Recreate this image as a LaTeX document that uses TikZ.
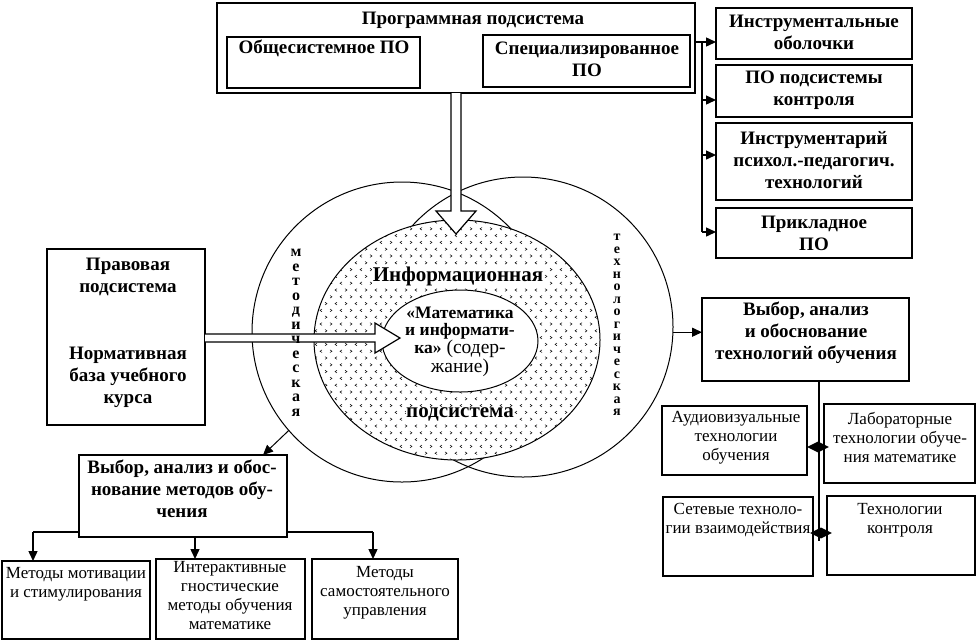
\documentclass[tikz,border=0pt]{standalone}
\usepackage{fontspec}
\setmainfont{Liberation Serif}
\usetikzlibrary{arrows.meta,shapes.geometric}
\tikzset{
  box/.style={draw, line width=1.8pt, rectangle, inner sep=0pt, outer sep=0pt},
  bt/.style={font=\fontsize{19}{22}\selectfont\bfseries, align=center, inner sep=0pt},
  rt/.style={font=\fontsize{17}{19}\selectfont, align=center, inner sep=0pt},
  conn/.style={line width=1.4pt},
  arr/.style={line width=1.4pt, -{Triangle[length=10pt,width=9pt]}},
  thinarr/.style={line width=1pt, -{Triangle[length=10pt,width=9pt]}},
  hollow/.style={line width=1.2pt, fill=white, line join=miter},
  vword/.style={align=center, inner sep=0pt},
  bigc/.style={circle, draw, line width=1pt, minimum size=300pt, inner sep=0pt, outer sep=0pt},
  chev/.style={line width=0.5pt},
}
\newcommand\boxat[5]{\node[box, minimum width={(#4-#2)*1pt}, minimum height={(#5-#3)*1pt}] (#1) at ({(#2+#4)/2},{(#3+#5)/2}) {};}
\begin{document}
\begin{tikzpicture}[x=1pt,y=-1pt]
\useasboundingbox (0,0) rectangle (976,641);
% big circles
\node[bigc] (cL) at (402,332) {};
\node[bigc] (cR) at (523,327) {};
% shaded ellipse
\fill[white] (457,340) ellipse [x radius=143pt, y radius=120pt];
\begin{scope}
\clip (457,340) ellipse [x radius=143pt, y radius=120pt];
\foreach \j in {0,...,35}{
  \foreach \i in {0,...,29}{
    \pgfmathsetmacro\xx{316+\i*10+mod(\j,2)*5}
    \pgfmathsetmacro\yy{222+\j*6.8}
    \ifodd\i
      \draw[chev] (\xx-1,\yy-1.3) -- (\xx+1,\yy) -- (\xx-1,\yy+1.3);
    \else
      \draw[chev] (\xx+1,\yy-1.3) -- (\xx-1,\yy) -- (\xx+1,\yy+1.3);
    \fi
  }
}
\end{scope}
\node[ellipse, draw, line width=1pt, minimum width=286pt, minimum height=240pt, inner sep=0pt] (eInfo) at (457,340) {};
\node[ellipse, draw, fill=white, line width=1pt, minimum width=156pt, minimum height=102pt, inner sep=0pt] (eCore) at (460,341) {};
\node[inner sep=0pt, align=center, font=\fontsize{17.5}{17}\selectfont\bfseries] (tCore) at (460,342) {«Математика\\ и информати-\\ ка»{\mdseries\fontsize{19.5}{17}\selectfont{} (содер-}\\ {\mdseries\fontsize{19.5}{17}\selectfont жание)}};
\node[font=\fontsize{21}{22}\selectfont\bfseries, fill=white, inner sep=0.5pt] (tInfo) at (458,276) {Информационная};
\node[font=\fontsize{21}{22}\selectfont\bfseries, fill=white, inner sep=0.5pt] (tPod) at (460,414) {подсистема};
% top program subsystem
\boxat{top}{217}{3}{695}{93}
\boxat{ob}{227}{37}{420}{88}
\boxat{spec}{483}{35}{690}{87}
\node[bt] (tTop) at (473,20) {Программная подсистема};
\node[bt] (tOb) at (324,48) {Общесистемное ПО};
\node[bt] (tSpec) at (587,59) {Специализированное\\ПО};
% right column
\boxat{r1}{716}{8}{912}{59}
\boxat{r2}{716}{65}{912}{117}
\boxat{r3}{716}{123}{912}{200}
\boxat{r4}{716}{208}{912}{258}
\node[bt] (t1) at (814,32) {Инструментальные\\оболочки};
\node[bt] (t2) at (814,90) {ПО подсистемы\\контроля};
\node[bt] (t3) at (814,160) {Инструментарий\\психол.-педагогич.\\технологий};
\node[bt] (t4) at (814,233) {Прикладное\\ПО};
\coordinate (rb0) at (702,42);
\coordinate (rb1) at (702,100);
\coordinate (rb2) at (702,155);
\coordinate (rb3) at (702,232);
\draw[arr] (top.east |- rb0) -- (r1.west |- rb0);
\draw[conn] (rb0) -- (rb3);
\draw[arr] (rb1) -- (r2.west |- rb1);
\draw[arr] (rb2) -- (r3.west |- rb2);
\draw[arr] (rb3) -- (r4.west |- rb3);
% down hollow arrow
\draw[hollow] ([xshift=-5pt]top.south) -- ++(0,118) -- ++(-15,0) -- ++(20,23) -- ++(20,-23) -- ++(-15,0) -- ([xshift=5pt]top.south);
% left box
\boxat{lb}{47}{249}{205}{425}
\node[bt] (tPr) at (128,277) {Правовая\\подсистема};
\node[bt] (tNo) at (128,377) {Нормативная\\база учебного\\курса};
\draw[hollow] ([yshift=3pt]lb.east) -- ++(170,0) -- ++(0,-11) -- ++(25,15) -- ++(-25,15) -- ++(0,-11) -- ([yshift=-5pt]lb.east);
% vertical words
\node[vword, font={\fontsize{16}{14.5}\selectfont\bfseries\lineskiplimit=-30pt}] (vMet) at (296,333) {м\\е\\т\\о\\д\\и\\ч\\е\\с\\к\\а\\я};
\node[vword, font={\fontsize{14}{12.5}\selectfont\bfseries\lineskiplimit=-30pt}] (vTech) at (617,325) {т\\е\\х\\н\\о\\л\\о\\г\\и\\ч\\е\\с\\к\\а\\я};
% technology selection
\boxat{vt}{702}{298}{909}{381}
\node[bt] (tVt) at (806,333) {Выбор, анализ\\и обоснование\\технологий обучения};
\draw[arr] (cR.-2) -- (vt.west |- cR.-2);
\boxat{au}{662}{406}{807}{475}
\boxat{lab}{824}{404}{975}{483}
\boxat{net}{663}{497}{813}{576}
\boxat{ctl}{827}{496}{975}{575}
\node[rt] (tAu) at (736,438) {Аудиовизуальные\\технологии\\обучения};
\node[rt] (tLab) at (900,437) {Лабораторные\\технологии обуче-\\ния математике};
\node[rt] (tNet) at (738,520) {Сетевые техноло-\\гии взаимодействия};
\node[rt] (tCtl) at (900,520) {Технологии\\контроля};
\coordinate (tb) at (819,541);
\draw[conn] (vt.south -| tb) -- (tb);
\node[diamond, fill, minimum width=22pt, minimum height=11pt, inner sep=0pt] (dm1) at (818,447) {};
\node[diamond, fill, minimum width=22pt, minimum height=11pt, inner sep=0pt] (dm2) at (821,533) {};
% method selection
\boxat{vm}{79}{455}{287}{537}
\node[bt] (tVm) at (182,489) {Выбор, анализ и обос-\\нование методов обу-\\чения};
\coordinate (mTip) at (263,455);
\draw[thinarr] (cL.221) -- (mTip);
\boxat{m1}{2}{561}{150}{639}
\boxat{m2}{156}{559}{305}{639}
\boxat{m3}{312}{559}{458}{639}
\node[rt] (tM1) at (76,584) {Методы мотивации\\и стимулирования};
\node[rt] (tM2) at (230,596) {Интерактивные\\гностические\\методы обучения\\математике};
\node[rt] (tM3) at (385,593) {Методы\\самостоятельного\\управления};
\coordinate (mbL) at (33,532);
\coordinate (mbR) at (373,532);
\coordinate (mbM) at (195,0);
\draw[conn] (vm.west |- mbL) -- (mbL);
\draw[arr] (mbL) -- (m1.north -| mbL);
\draw[conn] (vm.east |- mbR) -- (mbR);
\draw[arr] (mbR) -- (m3.north -| mbR);
\draw[arr] (vm.south -| mbM) -- (m2.north -| mbM);
\end{tikzpicture}
\end{document}
